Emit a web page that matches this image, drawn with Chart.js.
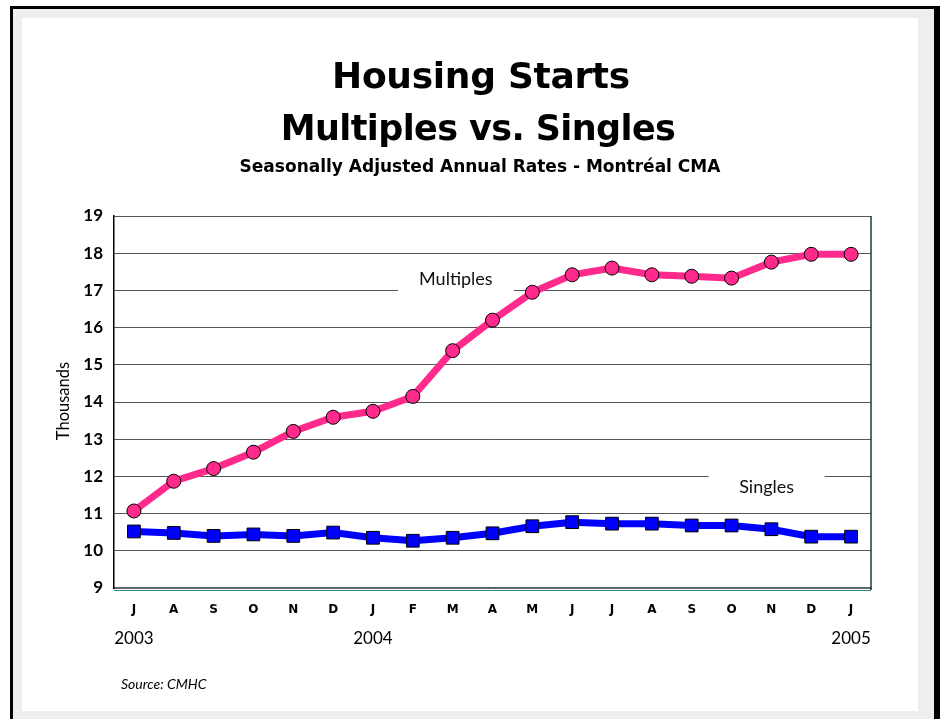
<!DOCTYPE html>
<html>
<head>
<meta charset="utf-8">
<script src="https://cdn.jsdelivr.net/npm/chart.js@4"></script>
<style>
  body { margin: 0; background: #fff; }
  #frame { position: absolute; left: 10px; top: 6px; width: 930px; height: 713px; box-sizing: border-box;
           background: #eeeeee; border-left: 3px solid #000; border-top: 3px solid #000; border-right: 6px solid #000; }
  #panel { position: absolute; left: 22px; top: 18px; width: 896px; height: 693px; background: #fff; }
  #chart { position: absolute; left: 0; top: 0; }
</style>
</head>
<body>
<div id="frame"></div>
<div id="panel"></div>
<canvas id="chart" width="940" height="719"></canvas>
<script>
const months = ['J', 'A', 'S', 'O', 'N', 'D', 'J', 'F', 'M', 'A', 'M', 'J', 'J', 'A', 'S', 'O', 'N', 'D', 'J'];
const multiples = [11.07, 11.87, 12.21, 12.65, 13.21, 13.59, 13.75, 14.15, 15.38, 16.2, 16.95, 17.42, 17.6, 17.42, 17.38, 17.33, 17.76, 17.97, 17.97];
const singles = [10.52, 10.48, 10.40, 10.44, 10.40, 10.49, 10.35, 10.27, 10.35, 10.47, 10.66, 10.77, 10.73, 10.73, 10.68, 10.68, 10.58, 10.38, 10.38];
const yearLabels = ['2003', '2004', '2005'];
const yearIndex = [0, 6, 18];

const FONT = 'Lato, "Open Sans", sans-serif';
const BOLD = '"DejaVu Sans", sans-serif';

// series labels placed in data units (category index, value)
const seriesLabels = [
  { text: 'Multiples', x: 8.08, y: 17.3 },
  { text: 'Singles', x: 15.88, y: 11.72 }
];

const decor = {
  id: 'decor',
  beforeDatasetsDraw(chart) {
    const ctx = chart.ctx;
    const xs = chart.scales.x, ys = chart.scales.y;
    ctx.save();
    ctx.font = '18px ' + FONT;
    ctx.textAlign = 'center';
    ctx.textBaseline = 'middle';
    seriesLabels.forEach(l => {
      const px = xs.getPixelForValue(l.x);
      const py = ys.getPixelForValue(l.y);
      ctx.fillStyle = '#fff';
      ctx.fillRect(px - 58, py - 17, 116, 34);
      ctx.fillStyle = '#111';
      ctx.fillText(l.text, px, py);
    });
    ctx.restore();
  },
  afterDraw(chart) {
    const ctx = chart.ctx;
    const a = chart.chartArea;
    const xs = chart.scales.x;
    ctx.save();
    // plot frame: right edge and double bottom line
    ctx.strokeStyle = '#1e3a3a';
    ctx.lineWidth = 1.5;
    ctx.beginPath();
    ctx.moveTo(a.right, a.top);
    ctx.lineTo(a.right, a.bottom + 2);
    ctx.stroke();
    ctx.strokeStyle = '#2a8a8a';
    ctx.lineWidth = 1;
    ctx.beginPath();
    ctx.moveTo(a.left, a.bottom + 2.5);
    ctx.lineTo(a.right, a.bottom + 2.5);
    ctx.stroke();

    ctx.fillStyle = '#000';
    ctx.textAlign = 'center';
    ctx.textBaseline = 'alphabetic';
    ctx.font = 'bold 36px ' + BOLD;
    ctx.letterSpacing = '-0.3px';
    ctx.fillText('Housing Starts', 481, 88);
    ctx.font = 'bold 35px ' + BOLD;
    ctx.letterSpacing = '-0.6px';
    ctx.fillText('Multiples vs. Singles', 478, 140);
    ctx.letterSpacing = '0px';
    ctx.font = 'bold 17px ' + BOLD;
    ctx.fillText('Seasonally Adjusted Annual Rates - Montréal CMA', 480, 172);

    // years under the January ticks
    ctx.font = '17px ' + FONT;
    ctx.textBaseline = 'middle';
    yearLabels.forEach((t, i) => {
      ctx.fillText(t, xs.getPixelForValue(yearIndex[i]), 639);
    });

    // y axis title
    ctx.save();
    ctx.translate(64, 401);
    ctx.rotate(-Math.PI / 2);
    ctx.font = '16.5px ' + FONT;
    ctx.fillText('Thousands', 0, 0);
    ctx.restore();

    ctx.textAlign = 'left';
    ctx.font = 'italic 14px ' + FONT;
    ctx.fillText('Source: CMHC', 121, 684);
    ctx.restore();
  }
};

new Chart(document.getElementById('chart'), {
  type: 'line',
  data: {
    labels: months,
    datasets: [{
      label: 'Multiples',
      data: multiples,
      borderColor: '#ff2a8c',
      borderWidth: 7,
      pointStyle: 'circle',
      pointRadius: 7,
      pointBackgroundColor: '#ff2a8c',
      pointBorderColor: '#000',
      pointBorderWidth: 1,
      tension: 0
    }, {
      label: 'Singles',
      data: singles,
      borderColor: '#0000ff',
      borderWidth: 7,
      pointStyle: 'rect',
      pointRadius: 9,
      pointBackgroundColor: '#0000ff',
      pointBorderColor: '#000',
      pointBorderWidth: 1,
      tension: 0
    }]
  },
  options: {
    responsive: false,
    animation: false,
    layout: { padding: { left: 0, top: 216, right: 69, bottom: 0 } },
    plugins: {
      legend: { display: false },
      tooltip: { enabled: false }
    },
    scales: {
      x: {
        offset: true,
        grid: { display: false, drawTicks: false },
        border: { color: '#666', width: 2 },
        ticks: { color: '#000', padding: 15, font: { family: BOLD, size: 12, weight: 'bold' } },
        afterFit(s) { s.height = 131; }
      },
      y: {
        min: 9,
        max: 19,
        ticks: { stepSize: 1, color: '#000', padding: 11, font: { family: FONT, size: 17, weight: 'bold' } },
        grid: { color: '#555', lineWidth: 1, drawTicks: false },
        border: { color: '#000', width: 1.5 },
        afterFit(s) { s.width = 114; }
      }
    }
  },
  plugins: [decor]
});
</script>
</body>
</html>
